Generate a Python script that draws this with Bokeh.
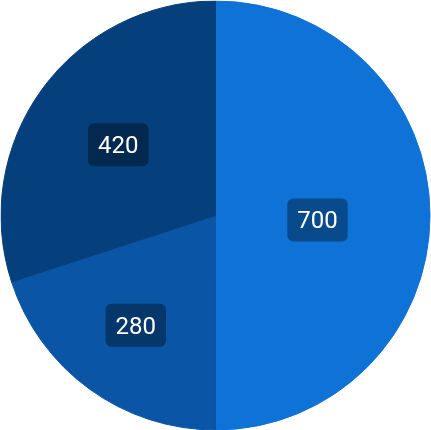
import math
from bokeh.plotting import figure
from bokeh.models import Range1d, ColumnDataSource
from bokeh.core.properties import value
from bokeh.embed import file_html
from bokeh.resources import INLINE

labels = ["700", "280", "420"]
values = [700, 280, 420]
colors = ["#0F72D7", "#0A55A5", "#053F7C"]
label_radius = [0.475, 0.631, 0.559]
label_angle_shift = [-2.5, 0.0, 0.0]  # degrees, clockwise positive

W, H = 431, 430
cx, cy, R = 215, 215, 215

total = sum(values)
starts, ends, lx, ly = [], [], [], []
acc = 0.0
for v, lr, sh in zip(values, label_radius, label_angle_shift):
    a0 = math.pi / 2 - 2 * math.pi * acc / total
    acc += v
    a1 = math.pi / 2 - 2 * math.pi * acc / total
    starts.append(a0)
    ends.append(a1)
    mid = (a0 + a1) / 2 + math.radians(sh)
    lx.append(cx + lr * R * math.cos(mid))
    ly.append(cy - lr * R * math.sin(mid))

src = ColumnDataSource(dict(start=starts, end=ends, color=colors,
                            lx=lx, ly=ly, text=labels))

p = figure(width=W, height=H, output_backend="svg", toolbar_location=None,
           x_range=Range1d(0, W), y_range=Range1d(H, 0),
           min_border=0, outline_line_color=None)
p.axis.visible = False
p.grid.visible = False
p.background_fill_color = "white"
p.border_fill_color = "white"
p.styles = {"position": "fixed", "left": "0px", "top": "0px"}

p.wedge(x=cx, y=cy, radius=R - 0.5, start_angle="start", end_angle="end",
        direction="clock", fill_color="color", line_color="color",
        line_width=1, source=src)

p.text(x="lx", y="ly", text="text", source=src,
       text_color="white", text_font=value("Roboto"), text_font_size="24px",
       text_align="center", text_baseline="middle",
       background_fill_color="black", background_fill_alpha=0.35,
       border_radius=6, padding=dict(left=10, right=10, top=13, bottom=13))

open("out.html", "w").write(file_html(p, INLINE))
